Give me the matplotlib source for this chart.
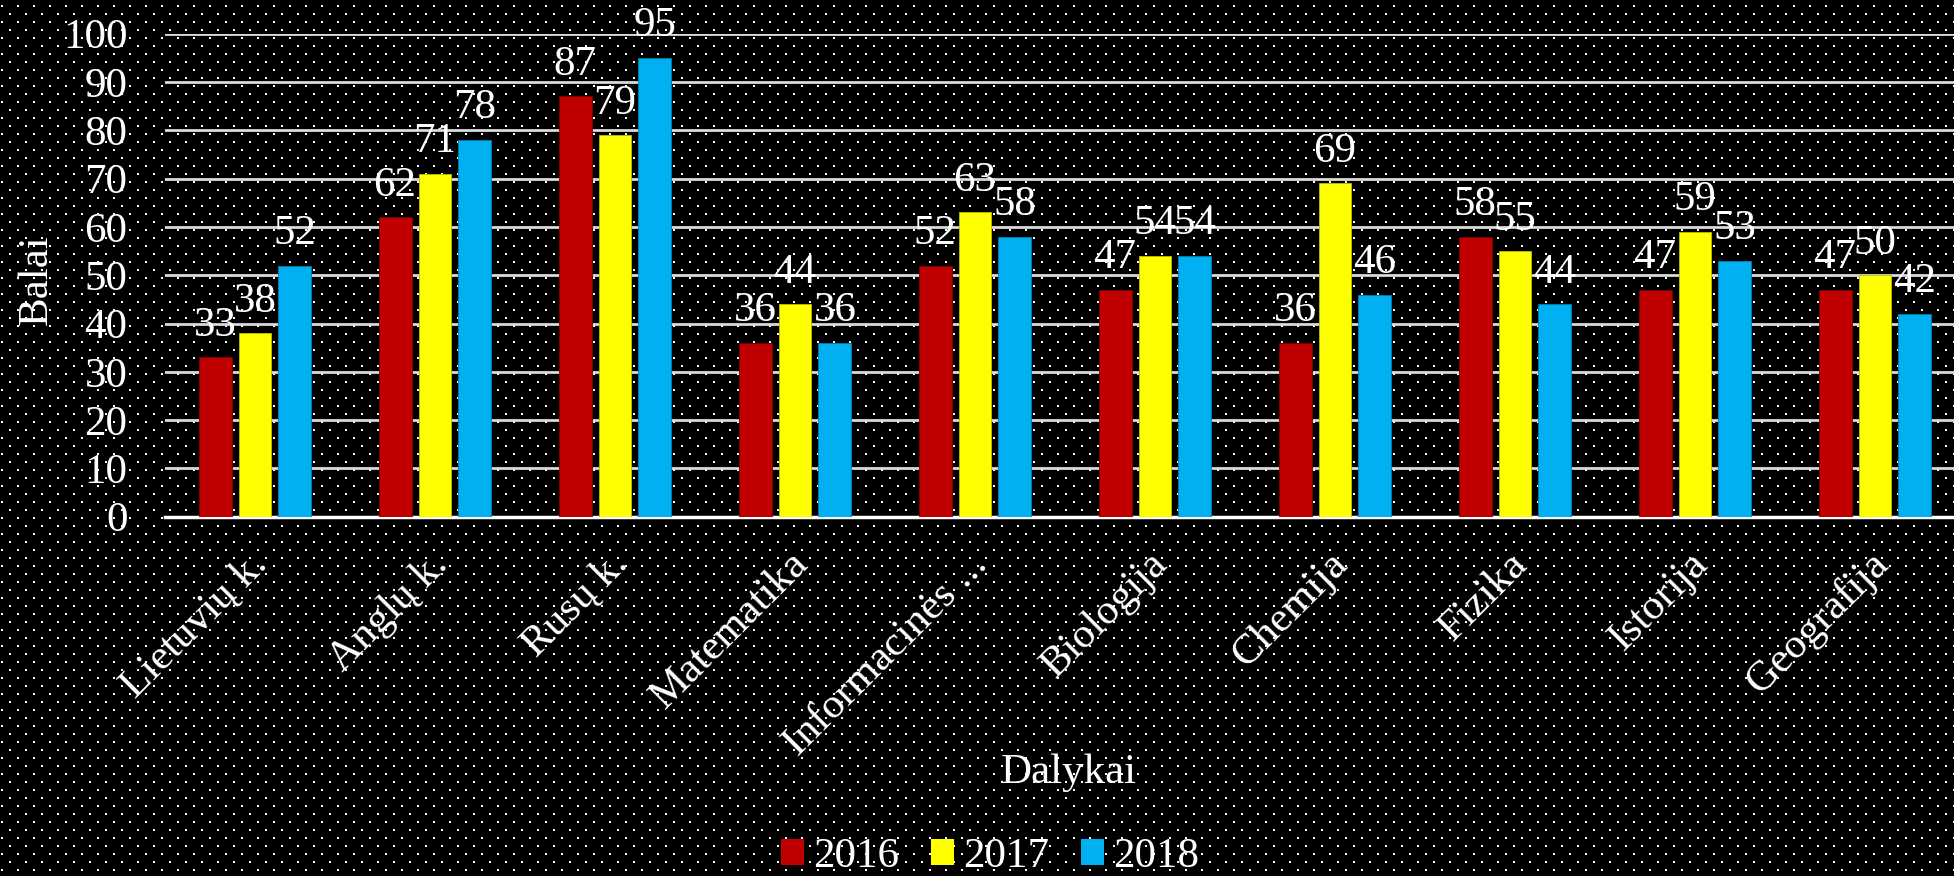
import numpy as np
import matplotlib
matplotlib.use("Agg")
import matplotlib.pyplot as plt
import matplotlib.transforms as mtrans
from matplotlib.patches import Patch

plt.rcParams['font.family'] = ['Liberation Serif', 'DejaVu Serif']

# duomenys
dalykai = ["Lietuvių k.", "Anglų k.", "Rusų k.", "Matematika", "Informacinės ...",
           "Biologija", "Chemija", "Fizika", "Istorija", "Geografija"]
metai = ["2016", "2017", "2018"]
v2016 = [33, 62, 87, 36, 52, 47, 36, 58, 47, 47]
v2017 = [38, 71, 79, 44, 63, 54, 69, 55, 59, 50]
v2018 = [52, 78, 95, 36, 58, 54, 46, 44, 53, 42]
spalvos = ["#C00000", "#FFFF00", "#00B0F0"]
krastai = ["#7F0000", "#BFBF00", "#007FAF"]

W, H = 1954, 876
fig = plt.figure(figsize=(W / 100, H / 100), dpi=100)
fig.patch.set_facecolor("black")

# taškuotas fonas
bg = np.zeros((H, W, 3))
for r, y in enumerate(range(5, H, 8)):
    off = 0 if r % 2 == 0 else 8
    for xx in range(1 + off, W, 16):
        bg[y:y + 2, xx:xx + 2, :] = 1.0
bgax = fig.add_axes([0, 0, 1, 1], zorder=-5)
bgax.imshow(bg, interpolation="nearest", aspect="auto")
bgax.axis("off")

left, right = 165, 1965
top, bottom = 33.7, 516.7
ax = fig.add_axes([left / W, 1 - bottom / H, (right - left) / W, (bottom - top) / H], zorder=1)
ax.set_facecolor("none")

fs = 31
x = np.arange(len(dalykai))
bw = 0.183
pitch = 0.222
for i, (vals, c, e, m) in enumerate(zip([v2016, v2017, v2018], spalvos, krastai, metai)):
    pos = x + (i - 1) * pitch
    ax.bar(pos, vals, width=bw, color=c, edgecolor=e, linewidth=0.6, zorder=3, label=m)
    for p, v in zip(pos, vals):
        ax.annotate(str(v), (p, v), xytext=(0, 9), textcoords="offset points",
                    ha="center", va="bottom", color="white", fontsize=fs, zorder=4)

ax.set_xlim(-0.5, len(dalykai) - 0.5)
ax.set_ylim(0, 100)
ax.set_yticks(range(0, 101, 10))
ax.yaxis.grid(True, color="#D9D9D9", linewidth=2, zorder=1)
ax.set_axisbelow(True)
for s in ["top", "right", "left"]:
    ax.spines[s].set_visible(False)
ax.spines["bottom"].set_color("white")
ax.spines["bottom"].set_linewidth(2.5)
ax.tick_params(axis="both", length=0, colors="white", labelsize=fs)
ax.tick_params(axis="y", pad=27)
ax.set_xticks(x)
ax.set_xticklabels(dalykai, rotation=45, ha="right", va="center",
                   rotation_mode="anchor", color="white", fontsize=fs)
ax.tick_params(axis="x", pad=30)
shift = mtrans.ScaledTranslation(7 / 100, 0, fig.dpi_scale_trans)
for lab in ax.get_xticklabels():
    lab.set_transform(lab.get_transform() + shift)

fig.text(37 / W, 1 - 280 / H, "Balai", rotation=90, ha="center", va="center",
         color="white", fontsize=fs)
fig.text(1069 / W, 1 - 773 / H, "Dalykai", ha="center", va="center",
         color="white", fontsize=fs)

handles = [Patch(facecolor=c, label=m) for c, m in zip(spalvos, metai)]
leg = fig.legend(handles=handles, loc="center", bbox_to_anchor=(990 / W, 1 - 857 / H),
                 ncol=3, frameon=False, fontsize=fs, handlelength=0.53, handleheight=0.58,
                 handletextpad=0.21, columnspacing=0.74, labelcolor="white",
                 borderpad=0, borderaxespad=0)

fig.savefig("out.png", dpi=100, facecolor="black")
